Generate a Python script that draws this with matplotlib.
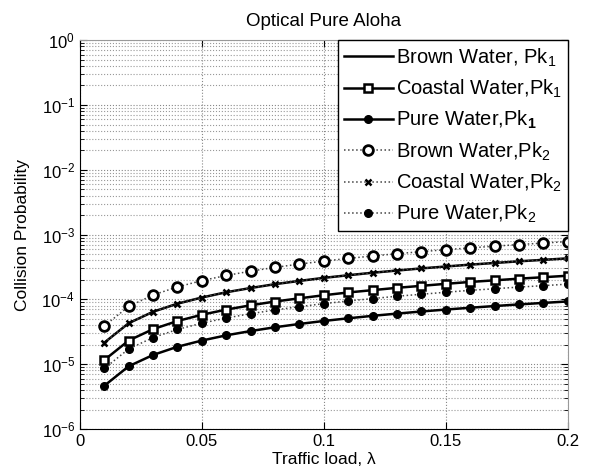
import matplotlib
matplotlib.use('Agg')
import matplotlib.pyplot as plt
from matplotlib.ticker import LogLocator, NullFormatter

# traffic load values
load = [0.01, 0.02, 0.03, 0.04, 0.05, 0.06, 0.07, 0.08, 0.09, 0.10,
        0.11, 0.12, 0.13, 0.14, 0.15, 0.16, 0.17, 0.18, 0.19, 0.20]

# collision probability (units of 1e-5)
brown_pk1 = [2.15, 4.3, 6.45, 8.6, 10.7, 12.9, 15.0, 17.2, 19.3, 21.5,
             23.6, 25.8, 27.9, 30.1, 32.2, 34.4, 36.5, 38.7, 40.8, 43.0]
coastal_pk1 = [1.16, 2.32, 3.48, 4.64, 5.8, 6.96, 8.12, 9.28, 10.4, 11.6,
               12.8, 13.9, 15.1, 16.2, 17.4, 18.6, 19.7, 20.9, 22.0, 23.2]
pure_pk1 = [0.465, 0.93, 1.39, 1.86, 2.32, 2.79, 3.25, 3.72, 4.18, 4.65,
            5.11, 5.58, 6.04, 6.51, 6.97, 7.44, 7.90, 8.37, 8.83, 9.3]
brown_pk2 = [3.9, 7.8, 11.7, 15.6, 19.5, 23.4, 27.3, 31.2, 35.1, 39.0,
             42.9, 46.8, 50.7, 54.6, 58.5, 62.4, 66.3, 70.2, 74.1, 78.0]
coastal_pk2 = [2.15, 4.3, 6.45, 8.6, 10.7, 12.9, 15.0, 17.2, 19.3, 21.5,
               23.6, 25.8, 27.9, 30.1, 32.2, 34.4, 36.5, 38.7, 40.8, 43.0]
pure_pk2 = [0.86, 1.72, 2.58, 3.44, 4.3, 5.16, 6.02, 6.88, 7.74, 8.6,
            9.46, 10.3, 11.2, 12.0, 12.9, 13.8, 14.6, 15.5, 16.3, 17.2]

x_ticks = [0, 0.05, 0.1, 0.15, 0.2]
x_tick_labels = ['0', '0.05', '0.1', '0.15', '0.2']
y_ticks = [1e-6, 1e-5, 1e-4, 1e-3, 1e-2, 1e-1, 1]
y_tick_labels = ['$10^{-6}$', '$10^{-5}$', '$10^{-4}$', '$10^{-3}$',
                 '$10^{-2}$', '$10^{-1}$', '$10^{0}$']


def scale(vals):
    return [v * 1e-5 for v in vals]


plt.rcParams['font.family'] = ['Liberation Sans', 'DejaVu Sans']
plt.rcParams['mathtext.fontset'] = 'custom'
plt.rcParams['mathtext.rm'] = 'Liberation Sans'
plt.rcParams['mathtext.it'] = 'Liberation Sans:italic'
plt.rcParams['mathtext.bf'] = 'Liberation Sans:bold'
plt.rcParams['mathtext.default'] = 'regular'

fig = plt.figure(figsize=(5.92, 4.73), dpi=100)
ax = fig.add_axes([0.135, 0.093, 0.824, 0.822])

ax.plot(load, scale(brown_pk1), '-', color='black', lw=1.8,
        label='Brown Water, Pk$_1$')
ax.plot(load, scale(coastal_pk1), '-s', color='black', lw=1.8, ms=6,
        mfc='white', mew=1.8, label='Coastal Water,Pk$_1$')
ax.plot(load, scale(pure_pk1), '-o', color='black', lw=1.8, ms=5.5,
        label='Pure Water,Pk$_\\mathbf{1}$')
ax.plot(load, scale(brown_pk2), ':o', color='#444444', lw=1.1, ms=7,
        mfc='white', mec='black', mew=2, label='Brown Water,Pk$_2$')
ax.plot(load, scale(coastal_pk2), ':x', color='#444444', lw=1.1, ms=5,
        mec='black', mew=1.8, label='Coastal Water,Pk$_2$')
ax.plot(load, scale(pure_pk2), ':o', color='#444444', lw=1.1, ms=5.5,
        mfc='black', mec='black', label='Pure Water,Pk$_2$')

ax.set_yscale('log')
ax.set_ylim(1e-6, 1)
ax.set_xlim(0, 0.2)
ax.set_xticks(x_ticks)
ax.set_xticklabels(x_tick_labels)
ax.set_yticks(y_ticks)
ax.set_yticklabels(y_tick_labels)
ax.yaxis.set_minor_locator(LogLocator(base=10, subs=range(2, 10), numticks=10))
ax.yaxis.set_minor_formatter(NullFormatter())

ax.tick_params(which='both', direction='in', top=True, right=True,
               labelsize=12)
ax.tick_params(which='major', length=5)
ax.tick_params(which='minor', length=3, labelleft=False, labelbottom=False)

ax.grid(True, which='major', linestyle=':', color='#888888', lw=0.8)
ax.grid(True, which='minor', axis='y', linestyle=':', color='#999999', lw=0.8)

for side in ['top', 'right']:
    ax.spines[side].set_color('#999999')

ax.set_title('Optical Pure Aloha', fontsize=13.5, pad=10)
ax.set_xlabel('Traffic load, λ', fontsize=12.5, labelpad=2)
ax.set_ylabel('Collision Probability', fontsize=12.5, labelpad=8)

leg = ax.legend(loc='upper right', fontsize=14.5, frameon=True, fancybox=False,
                edgecolor='black', framealpha=1, borderaxespad=0,
                labelspacing=0.45, handlelength=2.4, handletextpad=0.15,
                borderpad=0.3, numpoints=1)
leg.get_frame().set_linewidth(1.0)

fig.savefig('out.png', dpi=100)
